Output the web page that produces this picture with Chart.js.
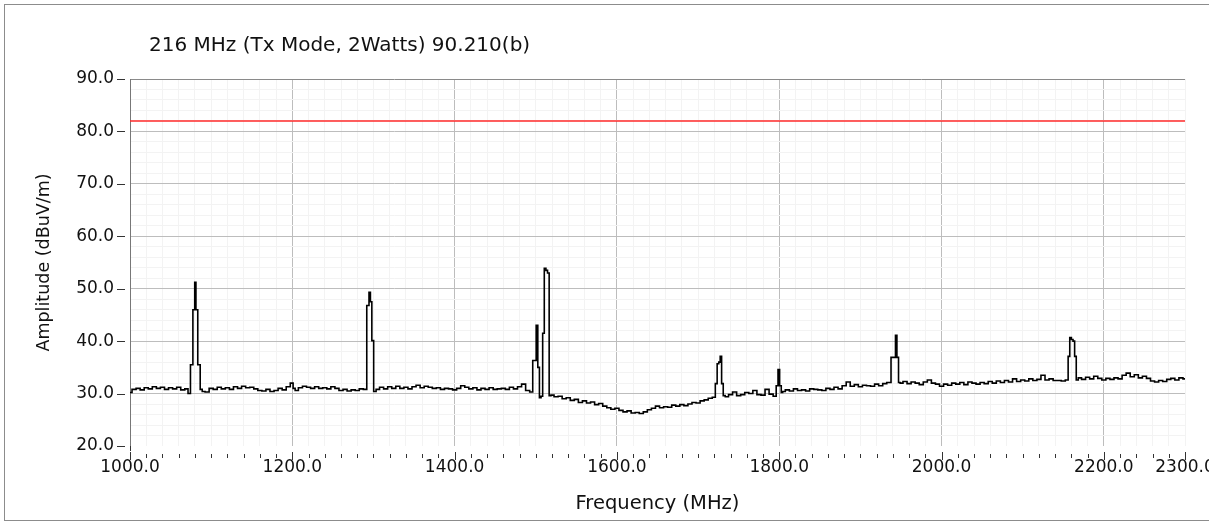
<!DOCTYPE html>
<html>
<head>
<meta charset="utf-8">
<script src="https://cdn.jsdelivr.net/npm/chart.js@4.4.1/dist/chart.umd.min.js"></script>
<style>
html, body { margin: 0; padding: 0; overflow: hidden; background: #fff; }
#wrap { position: relative; width: 1209px; height: 525px; overflow: hidden; }
#frame { position: absolute; left: 4px; top: 4px; width: 1300px; height: 515px; border: 1px solid #8c8c8c; pointer-events: none; }
#chart { position: absolute; left: 0; top: 0; }
</style>
</head>
<body>
<div id="wrap">
  <canvas id="chart" width="1240" height="525"></canvas>
  <div id="frame"></div>
</div>
<script>
// texts
const chartTitle = '216 MHz (Tx Mode, 2Watts) 90.210(b)';
const xTitle = 'Frequency (MHz)';
const yTitle = 'Amplitude (dBuV/m)';

// axis ticks
const xMajorTicks = [1000, 1200, 1400, 1600, 1800, 2000, 2200, 2300];
const yMajorTicks = [20, 30, 40, 50, 60, 70, 80, 90];

// limit line (dBuV/m)
const limitDb = 82.0;

const freqMHz = [
  1000, 1005, 1010, 1015, 1020, 1025, 1030, 1035, 1040, 1045, 1050, 1055, 1060, 1065, 1070,
  1073, 1076, 1079, 1080.5, 1082, 1085, 1088,
  1090, 1095, 1100, 1105, 1110, 1115, 1120, 1125, 1130, 1135, 1140, 1145, 1150, 1155, 1160, 1165, 1170, 1175, 1180, 1185, 1190, 1195,
  1200, 1202, 1205, 1210, 1215, 1220, 1225, 1230, 1235, 1240, 1245, 1250, 1255, 1260, 1265, 1270, 1275, 1280, 1285, 1290,
  1293.5, 1295.5, 1297, 1299, 1301.5, 1305,
  1310, 1315, 1320, 1325, 1330, 1335, 1340, 1345, 1350, 1355, 1360, 1365, 1370, 1375, 1380, 1385, 1390, 1395, 1400,
  1405, 1410, 1415, 1420, 1425, 1430, 1435, 1440, 1445, 1450, 1455, 1460, 1465, 1470, 1475, 1480, 1485, 1490, 1495,
  1497.5, 1499.5, 1501.5, 1503.5, 1505.5, 1507.5, 1509.5, 1511.5, 1513.5, 1515.5, 1517.5,
  1520, 1525, 1530, 1535, 1540, 1545, 1550, 1555, 1560, 1565, 1570, 1575, 1580, 1585, 1590, 1595, 1600, 1605, 1610, 1615,
  1620, 1625, 1630, 1635, 1640, 1645, 1650, 1655, 1660, 1665, 1670, 1675, 1680, 1685, 1690, 1695, 1700, 1705, 1710, 1715, 1720,
  1722.5, 1724.5, 1726.5, 1728, 1730, 1732,
  1735, 1740, 1745, 1750, 1755, 1760, 1765, 1770, 1775, 1780, 1785, 1790, 1795,
  1797.5, 1799.5, 1801.5, 1803.5,
  1805, 1810, 1815, 1820, 1825, 1830, 1835, 1840, 1845, 1850, 1855, 1860, 1865, 1870, 1875, 1880, 1885, 1890, 1895, 1900,
  1905, 1910, 1915, 1920, 1925, 1930, 1935,
  1940.5, 1942.5, 1944, 1946, 1948,
  1950, 1955, 1960, 1965, 1970, 1975, 1980, 1985, 1990, 1995, 2000, 2005, 2010, 2015, 2020, 2025, 2030, 2035, 2040, 2045,
  2050, 2055, 2060, 2065, 2070, 2075, 2080, 2085, 2090, 2095, 2100, 2105, 2110, 2115, 2120, 2125, 2130, 2135, 2140, 2145, 2150, 2155,
  2157, 2159, 2161, 2163, 2165, 2167,
  2170, 2175, 2180, 2185, 2190, 2195, 2200, 2205, 2210, 2215, 2220, 2225, 2230, 2235, 2240, 2245, 2250, 2255, 2260, 2265,
  2270, 2275, 2280, 2285, 2290, 2295, 2300
];
const ampDb = [
  30.2, 30.8, 31.0, 30.7, 31.1, 30.9, 31.3, 31.0, 31.2, 30.8, 31.1, 30.9, 31.2, 30.7, 30.9,
  30.0, 35.5, 46.0, 51.2, 46.0, 35.5, 30.8,
  30.4, 30.3, 31.0, 30.8, 31.2, 30.9, 31.1, 30.8, 31.3, 31.0, 31.4, 31.1, 31.2, 30.9, 30.6, 30.5, 30.8, 30.4, 30.6, 31.0, 30.7, 31.3,
  32.0, 31.0, 30.6, 31.1, 31.4, 31.2, 31.0, 31.3, 31.0, 31.1, 30.9, 31.3, 31.0, 30.6, 30.8, 30.5, 30.7, 30.6, 30.9, 30.8,
  46.8, 49.3, 47.5, 40.1, 30.4, 30.8,
  31.2, 30.9, 31.3, 31.0, 31.4, 31.0, 31.2, 30.9, 31.3, 31.6, 31.1, 31.4, 31.2, 31.0, 31.1, 30.8, 31.0, 30.9, 30.7,
  31.0, 31.5, 31.2, 30.9, 31.1, 30.7, 31.0, 30.8, 31.1, 30.8, 30.9, 31.0, 30.8, 31.2, 30.9, 31.3, 31.8, 30.6, 30.3,
  36.3, 36.3, 43.0, 35.0, 29.2, 29.5, 41.5, 53.9, 53.5, 53.0, 29.6,
  29.7, 29.4, 29.5, 29.0, 29.2, 28.7, 28.9, 28.3, 28.6, 28.2, 28.4, 27.9, 28.1, 27.6, 27.3, 27.0, 27.2, 26.8, 26.5, 26.7,
  26.3, 26.4, 26.2, 26.5, 26.9, 27.2, 27.6, 27.3, 27.5, 27.4, 27.8, 27.6, 27.9, 27.7, 28.0, 28.3, 28.2, 28.6, 28.8, 29.1, 29.3,
  31.9, 35.7, 36.0, 37.1, 31.9, 29.6,
  29.4, 29.8, 30.3, 29.6, 29.8, 30.2, 30.0, 30.6, 29.8, 29.7, 30.8, 29.9, 29.5,
  31.5, 34.6, 31.5, 30.2,
  30.4, 30.7, 30.5, 30.9, 30.6, 30.7, 30.5, 30.9, 30.8, 30.7, 30.6, 31.0, 30.8, 31.2, 30.9, 31.5, 32.2, 31.4, 31.7, 31.3,
  31.6, 31.5, 31.4, 31.8, 31.5, 31.9, 32.1,
  36.9, 36.9, 41.1, 36.9, 32.1,
  32.0, 32.3, 31.9, 32.2, 32.0, 31.7, 32.2, 32.6, 32.0, 31.8, 31.4, 31.8, 31.6, 32.0, 31.8, 32.1, 31.7, 32.2, 32.0, 31.8,
  32.1, 31.9, 32.3, 32.0, 32.4, 32.1, 32.5, 32.2, 32.8, 32.3, 32.6, 32.4, 32.8, 32.5, 32.7, 33.5, 32.6, 32.8, 32.5, 32.5, 32.4, 32.6,
  37.1, 40.7, 40.3, 40.0, 37.1, 32.6,
  33.0, 32.7, 33.1, 32.8, 33.3, 32.9, 32.6, 32.9, 32.7, 33.0, 32.8, 33.5, 33.9, 33.2, 33.6, 33.0, 33.3, 32.9, 32.4, 32.2,
  32.5, 32.3, 32.7, 32.9, 32.6, 33.0, 32.8
];

const tracePoints = freqMHz.map((f, i) => ({ x: f, y: ampDb[i] }));
const limitPoints = [
  { x: xMajorTicks[0], y: limitDb },
  { x: xMajorTicks[xMajorTicks.length - 1], y: limitDb }
];

const tickFont = { family: 'DejaVu Sans', size: 17 };

// title and outside tick marks
const decorations = {
  id: 'decorations',
  afterDraw(chart) {
    const { ctx, chartArea, scales } = chart;
    const x = scales.x;
    const y = scales.y;
    ctx.save();
    ctx.fillStyle = '#111';
    ctx.font = '20px "DejaVu Sans"';
    ctx.textBaseline = 'middle';
    ctx.textAlign = 'left';
    ctx.fillText(chartTitle, 149, 46);

    ctx.strokeStyle = '#333';
    ctx.lineWidth = 1;
    ctx.beginPath();
    // axis line runs a bit past the bottom
    ctx.moveTo(chartArea.left + 0.5, chartArea.bottom);
    ctx.lineTo(chartArea.left + 0.5, chartArea.bottom + 5);
    x.ticks.forEach(t => {
      const px = Math.round(x.getPixelForValue(t.value)) + 0.5;
      const major = xMajorTicks.includes(t.value);
      ctx.moveTo(px, chartArea.bottom + (major ? 6 : 8));
      ctx.lineTo(px, chartArea.bottom + (major ? 14 : 12));
    });
    y.ticks.forEach(t => {
      if (!yMajorTicks.includes(t.value)) return;
      const py = Math.round(y.getPixelForValue(t.value)) + 0.5;
      ctx.moveTo(chartArea.left - 13, py);
      ctx.lineTo(chartArea.left - 5, py);
    });
    ctx.stroke();
    ctx.restore();
  }
};

const ctx = document.getElementById('chart').getContext('2d');
const myChart = new Chart(ctx, {
  type: 'line',
  data: {
    datasets: [{
      label: 'Limit',
      data: limitPoints,
      borderColor: '#ff2a2a',
      borderWidth: 1.5,
      pointRadius: 0
    }, {
      label: 'Trace',
      data: tracePoints,
      borderColor: '#000',
      borderWidth: 1.6,
      pointRadius: 0,
      stepped: 'middle'
    }]
  },
  options: {
    responsive: false,
    animation: false,
    layout: { padding: { left: 0, top: 79, right: 55, bottom: 0 } },
    plugins: {
      legend: { display: false },
      tooltip: { enabled: false }
    },
    scales: {
      x: {
        type: 'linear',
        min: 1000,
        max: 2300,
        border: { display: false },
        grid: {
          drawTicks: false,
          color: c => (c.tick && c.tick.value % 200 === 0) ? '#bdbdbd' : '#f3f3f3'
        },
        ticks: {
          stepSize: 20,
          autoSkip: false,
          maxRotation: 0,
          padding: 11,
          color: '#111',
          font: tickFont,
          callback: v => xMajorTicks.includes(v) ? v.toFixed(1) : ''
        },
        title: {
          display: true,
          text: xTitle,
          color: '#111',
          font: { family: 'DejaVu Sans', size: 19.5 },
          padding: { top: 0, bottom: 9 }
        },
        afterFit: s => { s.height = 79; }
      },
      y: {
        min: 20,
        max: 90,
        border: { display: true, color: '#777', width: 1 },
        grid: {
          drawTicks: false,
          color: c => {
            const v = c.tick ? c.tick.value : 0;
            if (v === 90) return '#8a8a8a';
            if (v === 20) return 'rgba(0,0,0,0)';
            return v % 10 === 0 ? '#bdbdbd' : '#f3f3f3';
          }
        },
        ticks: {
          stepSize: 2,
          autoSkip: false,
          padding: 16,
          color: '#111',
          font: tickFont,
          callback: v => yMajorTicks.includes(v) ? v.toFixed(1) : ''
        },
        title: {
          display: true,
          text: yTitle,
          color: '#111',
          font: { family: 'DejaVu Sans', size: 17.5 },
          padding: { top: 34, bottom: 0 }
        },
        afterFit: s => { s.width = 130; }
      }
    }
  },
  plugins: [decorations]
});
</script>
</body>
</html>
